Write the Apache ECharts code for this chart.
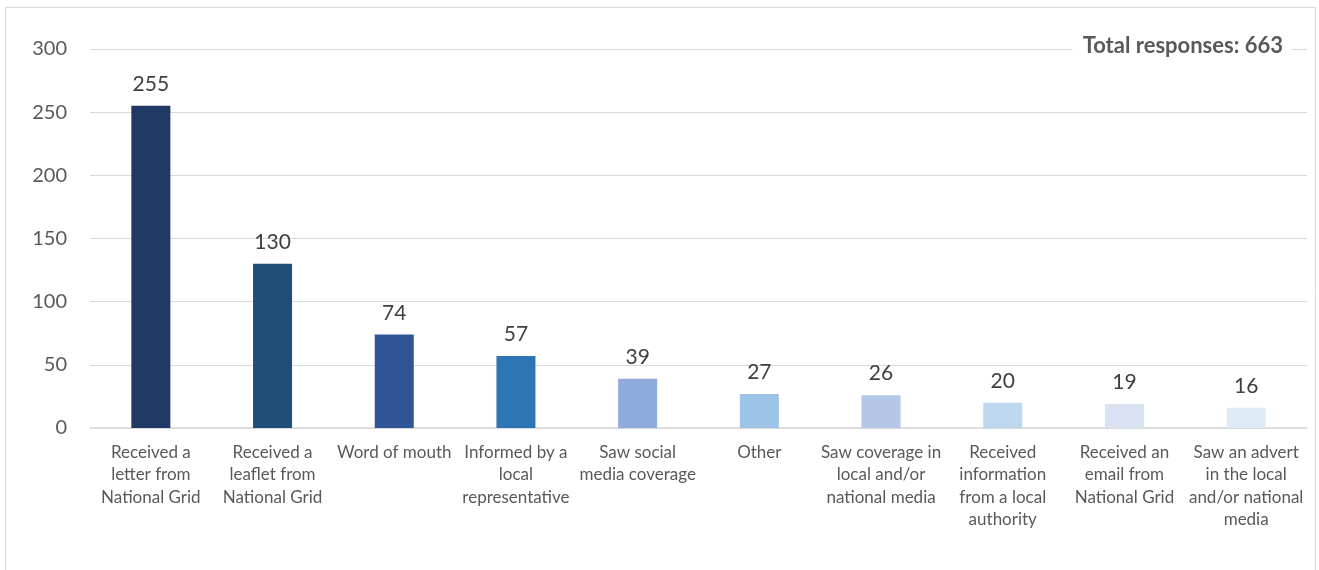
<!DOCTYPE html>
<html><head><meta charset="utf-8">
<script src="https://cdn.jsdelivr.net/npm/echarts@6/dist/echarts.min.js"></script>
<style>html,body{margin:0;padding:0;background:#fff}#c{width:1319px;height:570px}</style>
</head><body><div id="c"></div>
<script>
const categories = [
  "Received a\nletter from\nNational Grid",
  "Received a\nleaflet from\nNational Grid",
  "Word of mouth",
  "Informed by a\nlocal\nrepresentative",
  "Saw social\nmedia coverage",
  "Other",
  "Saw coverage in\nlocal and/or\nnational media",
  "Received\ninformation\nfrom a local\nauthority",
  "Received an\nemail from\nNational Grid",
  "Saw an advert\nin the local\nand/or national\nmedia"
];
const values = [255, 130, 74, 57, 39, 27, 26, 20, 19, 16];
const barColors = ["#203864","#1F4E79","#2F5597","#2E75B6","#8FAADC","#9DC3E6","#B4C7E7","#BDD7EE","#DAE3F3","#DEEBF7"];
const totalLabel = "Total responses: 663";

const FONT = "Lato";
const chart = echarts.init(document.getElementById('c'), null, {renderer:'canvas'});
chart.setOption({
  animation: false,
  backgroundColor: '#fff',
  grid: {left: 90, right: 12, top: 49, bottom: 142, containLabel: false},
  xAxis: {
    type: 'category', data: categories,
    axisLine: {lineStyle: {color: '#d9d9d9', width: 1.5}},
    axisTick: {show: false},
    axisLabel: {interval: 0, color: '#595959', fontFamily: FONT, fontSize: 17, lineHeight: 22.5, margin: 13}
  },
  yAxis: {
    type: 'value', min: 0, max: 300, interval: 50,
    axisLine: {show: false}, axisTick: {show: false},
    splitLine: {lineStyle: {color: '#d9d9d9', width: 1}},
    axisLabel: {color: '#595959', fontFamily: FONT, fontSize: 20, margin: 23}
  },
  series: [{
    type: 'bar', barWidth: 39,
    data: values.map((v, i) => ({value: v, itemStyle: {color: barColors[i]}})),
    label: {show: true, position: 'top', distance: 11, color: '#404040', fontFamily: FONT, fontSize: 21}
  }],
  graphic: [
    {type: 'rect', shape: {x: 5.5, y: 7.5, width: 1310, height: 600}, style: {fill: 'none', stroke: '#d9d9d9', lineWidth: 1}, silent: true, z: -1},
    {type: 'text', right: 27, top: 35, style: {text: totalLabel, fill: '#595959', font: 'bold 22px ' + FONT, backgroundColor: '#fff', padding: [0, 9, 0, 10]}, z: 100}
  ]
});
</script></body></html>
